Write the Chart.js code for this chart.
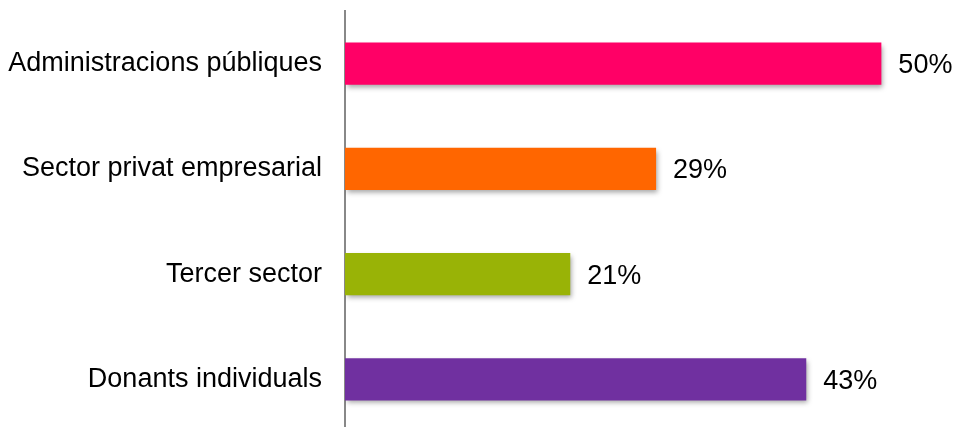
<!DOCTYPE html>
<html>
<head>
<meta charset="utf-8">
<script src="https://cdn.jsdelivr.net/npm/chart.js@4.4.0/dist/chart.umd.min.js"></script>
<style>
  html, body { margin: 0; padding: 0; background: #fff; overflow: hidden; }
  #wrap { width: 954px; height: 440px; }
</style>
</head>
<body>
<div id="wrap"><canvas id="myChart"></canvas></div>
<script>
'use strict';

// chart data
const categories = ['Administracions públiques', 'Sector privat empresarial', 'Tercer sector', 'Donants individuals'];
const percentages = [50, 29, 21, 43];
const barColors = ['#FF0066', '#FF6600', '#99B306', '#7030A0'];

const fontFamily = '"Liberation Sans", Arial, sans-serif';
const fontSize = 27;

// soft drop shadow under bars
const barShadow = {
  id: 'barShadow',
  beforeDatasetDraw(chart) {
    const ctx = chart.ctx;
    ctx.save();
    ctx.shadowColor = 'rgba(0, 0, 0, 0.35)';
    ctx.shadowBlur = 5;
    ctx.shadowOffsetX = 2;
    ctx.shadowOffsetY = 3;
  },
  afterDatasetDraw(chart) {
    chart.ctx.restore();
  }
};

// value labels at the end of each bar
const valueLabels = {
  id: 'valueLabels',
  afterDatasetsDraw(chart) {
    const ctx = chart.ctx;
    const meta = chart.getDatasetMeta(0);
    ctx.save();
    ctx.font = fontSize + 'px ' + fontFamily;
    ctx.fillStyle = '#000';
    ctx.textAlign = 'left';
    ctx.textBaseline = 'middle';
    meta.data.forEach((bar, i) => {
      ctx.fillText(percentages[i] + '%', bar.x + 17, bar.y + 2);
    });
    ctx.restore();
  }
};

const config = {
  type: 'bar',
  data: {
    labels: categories,
    datasets: [{
      data: percentages,
      backgroundColor: barColors,
      borderWidth: 0,
      barPercentage: 0.8,
      categoryPercentage: 0.5
    }]
  },
  options: {
    indexAxis: 'y',
    responsive: true,
    maintainAspectRatio: false,
    animation: false,
    layout: {
      padding: { top: 11, bottom: 8, left: 0, right: 19 }
    },
    scales: {
      x: {
        display: false,
        min: 0,
        max: 55
      },
      y: {
        afterFit(scale) {
          // fixed axis position, no extra room above/below for labels
          scale.width = 345;
          scale.paddingTop = 0;
          scale.paddingBottom = 0;
        },
        grid: { display: false, drawTicks: false },
        border: { display: true, color: '#888888', width: 2 },
        ticks: {
          color: '#000',
          padding: 23,
          font: { family: fontFamily, size: fontSize }
        }
      }
    },
    plugins: {
      legend: { display: false },
      tooltip: { enabled: false },
      title: { display: false }
    }
  },
  plugins: [barShadow, valueLabels]
};

const myChart = new Chart(document.getElementById('myChart'), config);
</script>
</body>
</html>
